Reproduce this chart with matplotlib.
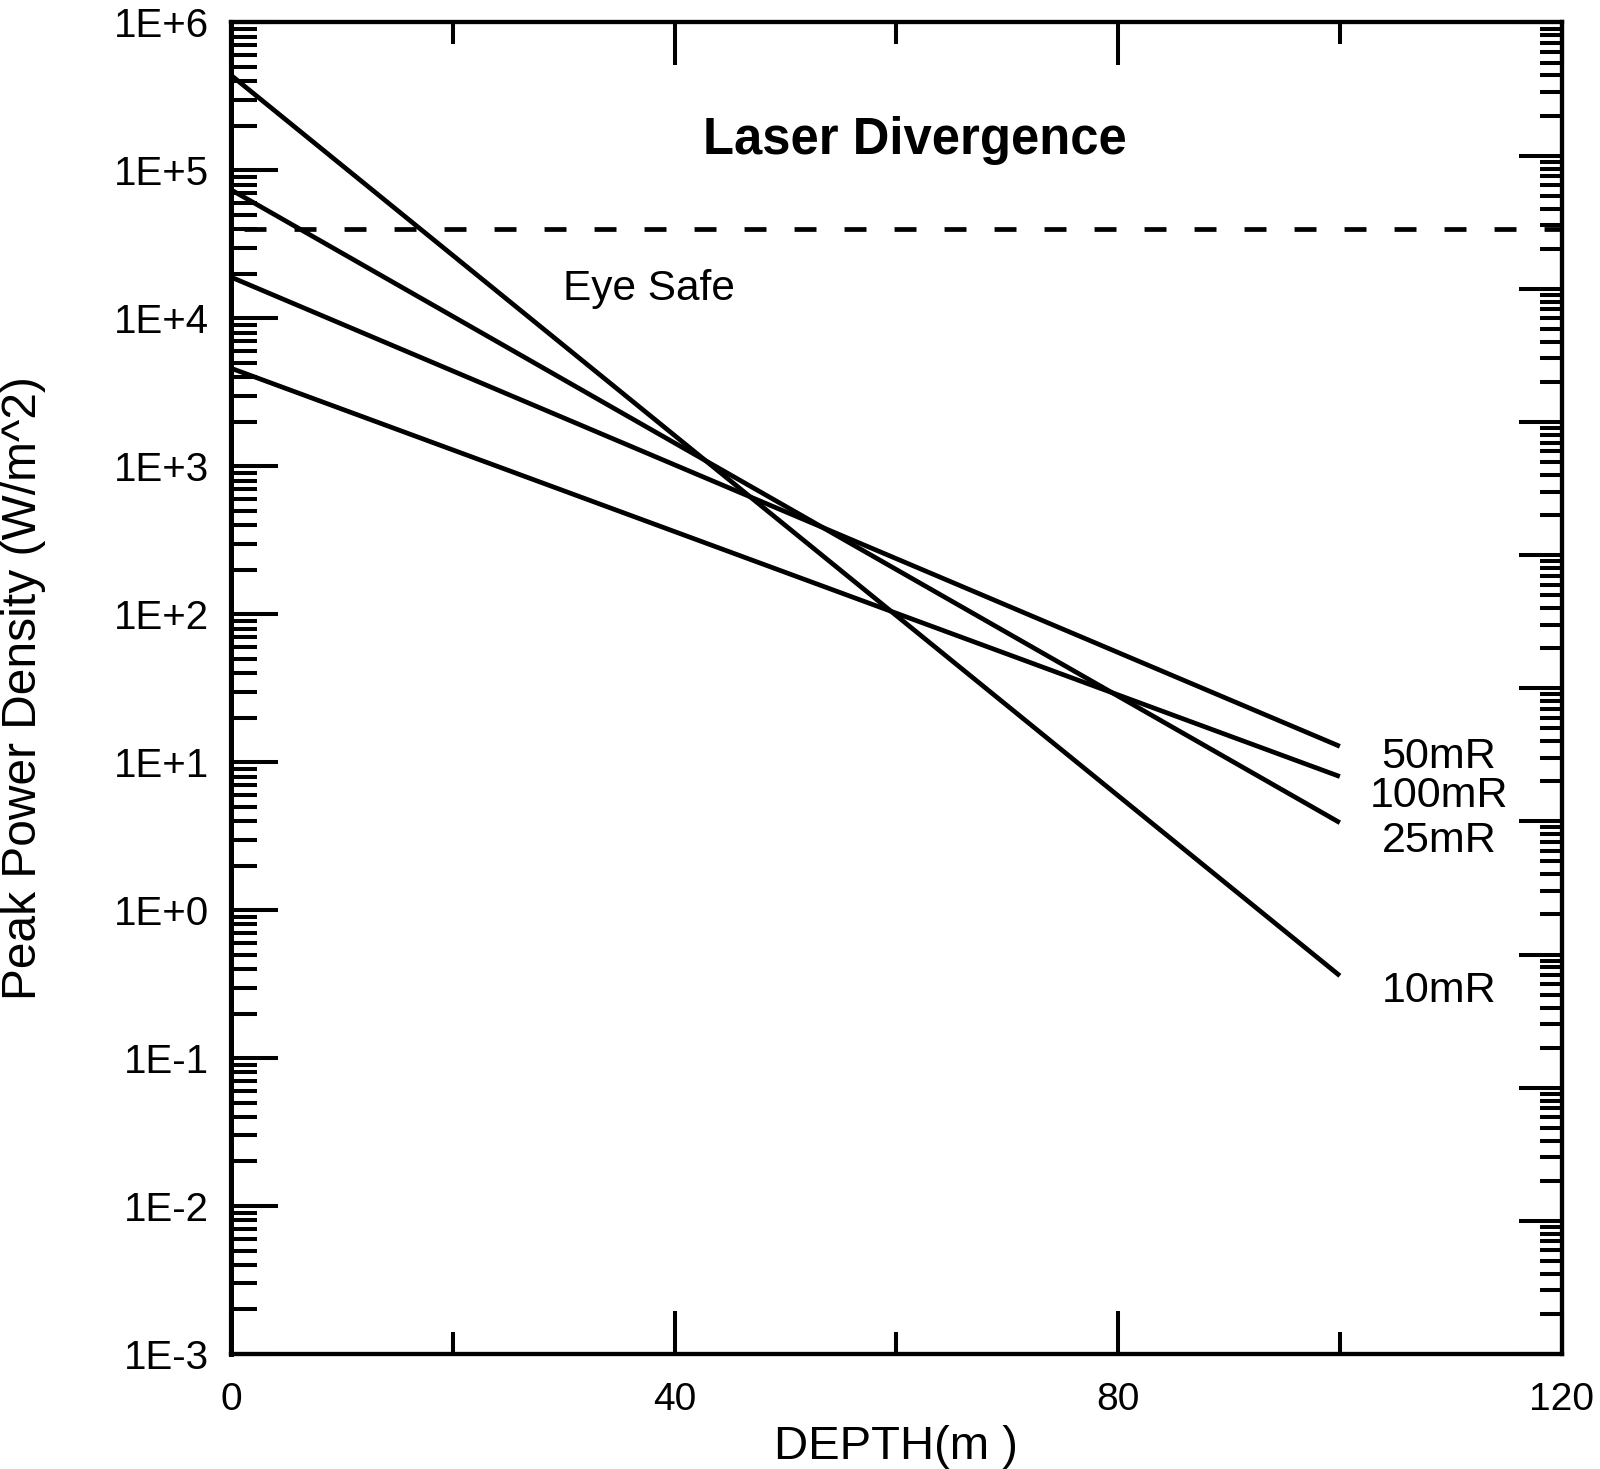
import math
import matplotlib
matplotlib.use("Agg")
import matplotlib.pyplot as plt
from matplotlib.ticker import FixedLocator, FuncFormatter, NullFormatter

plt.rcParams['font.family'] = ['Liberation Sans', 'DejaVu Sans']
plt.rcParams['lines.scale_dashes'] = False

# depth (m) at both ends of each line, peak power density (W/m^2)
depth = [0, 100]
p_10mR = [4.4e5, 0.36]
p_25mR = [7.4e4, 3.9]
p_50mR = [1.9e4, 12.8]
p_100mR = [4.6e3, 8.0]
eye_safe = 4.0e4

series = [p_50mR, p_100mR, p_25mR, p_10mR]
names = ["50mR", "100mR", "25mR", "10mR"]
label_drop = [11, 19, 18, 15]   # px below the line end

fig = plt.figure(figsize=(16, 14.69), dpi=100)
ax = fig.add_axes([0.1444, 0.0783, 0.8316, 0.9064])

for vals in series:
    ax.plot(depth, vals, color="black", lw=3.4, solid_capstyle="butt")

ax.plot([0, 120], [eye_safe, eye_safe], color="black", lw=3.4,
        linestyle=(26.6, (15.8, 20.2)), dash_capstyle="butt")

for vals, name, dy in zip(series, names, label_drop):
    ax.annotate(name, xy=(depth[-1], vals[-1]), xytext=(99, -dy),
                textcoords="offset pixels", ha="center", va="center",
                fontsize=31)

ax.text(0.514, 0.911, "Laser Divergence", transform=ax.transAxes,
        ha="center", va="center", fontsize=36.5, fontweight="bold")
ax.text(0.314, 0.800, "Eye Safe", transform=ax.transAxes,
        ha="center", va="center", fontsize=30.5)

ax.set_yscale("log")
ax.set_xlim(0, 120)
ax.set_ylim(1e-3, 1e6)

decades = list(range(-3, 7))
ax.yaxis.set_major_locator(FixedLocator([10.0 ** k for k in decades]))
ax.yaxis.set_major_formatter(FuncFormatter(lambda v, p: "1E%+d" % round(math.log10(v))))
ax.yaxis.set_minor_locator(FixedLocator([m * 10.0 ** k for k in decades[:-1] for m in range(2, 10)]))
ax.yaxis.set_minor_formatter(NullFormatter())

ax.xaxis.set_major_locator(FixedLocator([0, 40, 80, 120]))
ax.xaxis.set_minor_locator(FixedLocator([20, 60, 100]))

ax.tick_params(which="both", direction="in", top=True, right=False,
               width=2.9, colors="black", labelsize=29)
ax.tick_params(axis="y", which="major", length=34, pad=16)
ax.tick_params(axis="y", which="minor", length=19)
ax.tick_params(axis="x", which="major", length=31, pad=20, labelsize=28)
ax.tick_params(axis="x", which="minor", length=16)

# unlabelled right-hand scale spanning ten decades
ax2 = ax.twinx()
ax2.set_yscale("log")
ax2.set_ylim(1e-4, 1e6)
r_decades = list(range(-4, 7))
ax2.yaxis.set_major_locator(FixedLocator([10.0 ** k for k in r_decades]))
ax2.yaxis.set_minor_locator(FixedLocator([m * 10.0 ** k for k in r_decades[:-1] for m in range(2, 10)]))
ax2.yaxis.set_major_formatter(NullFormatter())
ax2.yaxis.set_minor_formatter(NullFormatter())
ax2.tick_params(which="both", direction="in", width=2.9, colors="black")
ax2.tick_params(which="major", length=31)
ax2.tick_params(which="minor", length=16)

for a in (ax, ax2):
    for s in a.spines.values():
        s.set_linewidth(3.0)
ax.spines["left"].set_linewidth(3.6)

ax.set_xlabel("DEPTH(m )", fontsize=34)
ax.set_ylabel("Peak Power Density (W/m^2)", fontsize=34.5)
ax.xaxis.set_label_coords(0.5, -0.053)
ax.yaxis.set_label_coords(-0.139, 0.5)

fig.savefig("out.png", dpi=100)
